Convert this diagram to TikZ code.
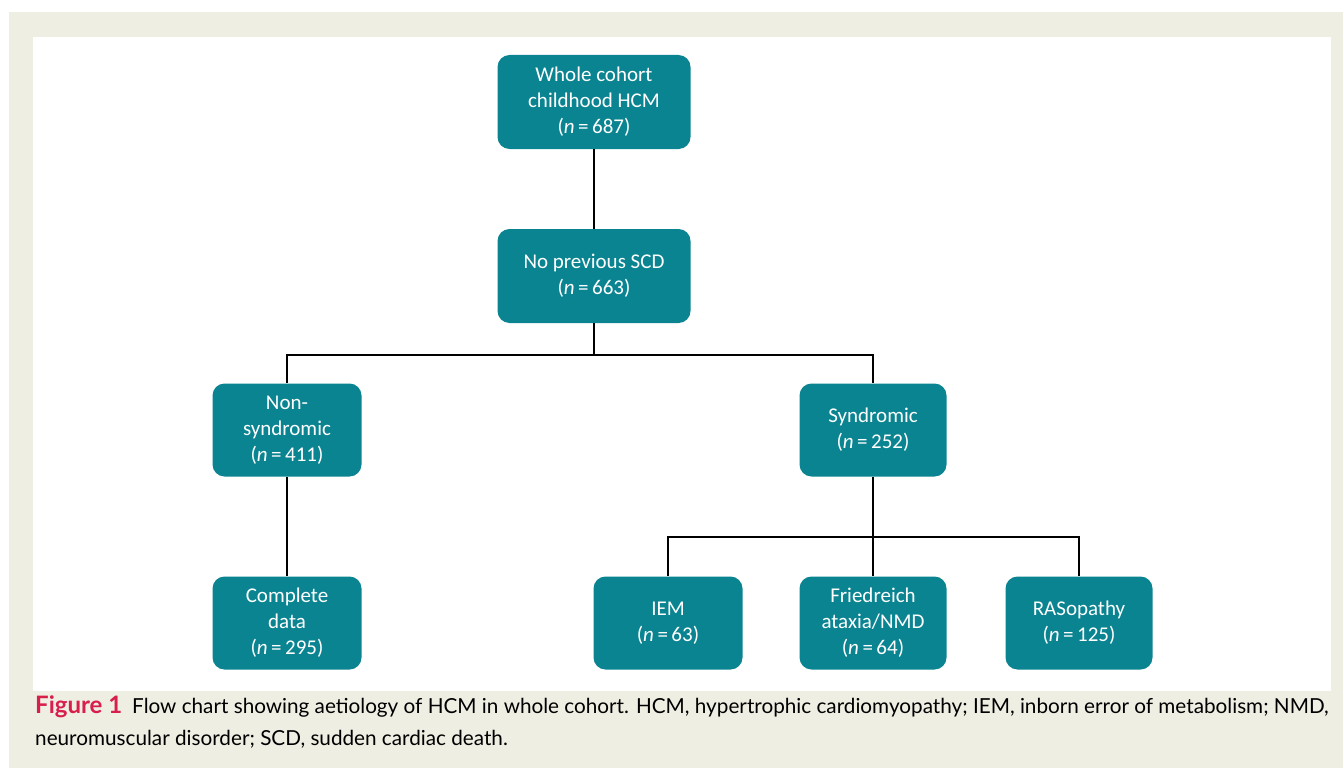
\documentclass[tikz,border=0pt]{standalone}
\usepackage{fontspec}
\setmainfont{Carlito}
\newfontfamily\capfont{Lato}
\definecolor{boxteal}{HTML}{0B8491}
\definecolor{pagebeige}{HTML}{EFEEE3}
\definecolor{figred}{HTML}{D81E4A}
\tikzset{
  flowbox/.style={rectangle, rounded corners=12pt, fill=boxteal, text=white,
    minimum width=149pt, minimum height=93pt, align=center,
    font=\fontsize{21}{26}\selectfont, inner sep=2pt},
  wide/.style={minimum width=193pt, minimum height=94pt},
  link/.style={draw=black, line width=1.1pt}
}
\begin{document}
\begin{tikzpicture}[x=1pt, y=-1pt]
  \useasboundingbox (0,0) rectangle (1343,768);
  \fill[pagebeige] (9,12) rectangle (1343,768);
  \fill[white] (33,37) rectangle (1331,691);
  % boxes
  \node[flowbox, wide] (whole) at (594,102) {Whole cohort\\childhood HCM\\(\textit{n}\,=\,687)};
  \node[flowbox, wide] (noscd) at (594,276) {No previous SCD\\(\textit{n}\,=\,663)};
  \node[flowbox] (nonsyn) at (287,430) {Non-\\syndromic\\(\textit{n}\,=\,411)};
  \node[flowbox, minimum width=147pt] (syn) at (873,430) {Syndromic\\(\textit{n}\,=\,252)};
  \node[flowbox] (complete) at (287,623) {Complete\\data\\(\textit{n}\,=\,295)};
  \node[flowbox] (iem) at (668,623) {IEM\\(\textit{n}\,=\,63)};
  \node[flowbox, minimum width=147pt] (fried) at (873,623) {Friedreich\\ataxia/NMD\\(\textit{n}\,=\,64)};
  \node[flowbox, minimum width=147pt] (raso) at (1079,623) {RASopathy\\(\textit{n}\,=\,125)};
  % connectors
  \coordinate (split1) at (594,355);
  \coordinate (split2) at (873,537);
  \draw[link] (whole) -- (noscd);
  \draw[link] (noscd) -- (split1);
  \draw[link] (split1) -| (nonsyn.north);
  \draw[link] (split1) -| (syn.north);
  \draw[link] (nonsyn) -- (complete);
  \draw[link] (syn) -- (fried);
  \draw[link] (split2) -| (iem.north);
  \draw[link] (split2) -| (raso.north);
  % caption
  \node[anchor=north west, align=left, inner sep=0pt, font=\capfont\fontsize{20.7}{32}\selectfont] (caption) at (35,695)
    {{\color{figred}\fontsize{24}{32}\selectfont\bfseries Figure 1}\hspace{10pt}Flow chart showing aetiology of HCM in whole cohort. HCM, hypertrophic cardiomyopathy; IEM, inborn error of metabolism; NMD,\\neuromuscular disorder; SCD, sudden cardiac death.};
\end{tikzpicture}
\end{document}
